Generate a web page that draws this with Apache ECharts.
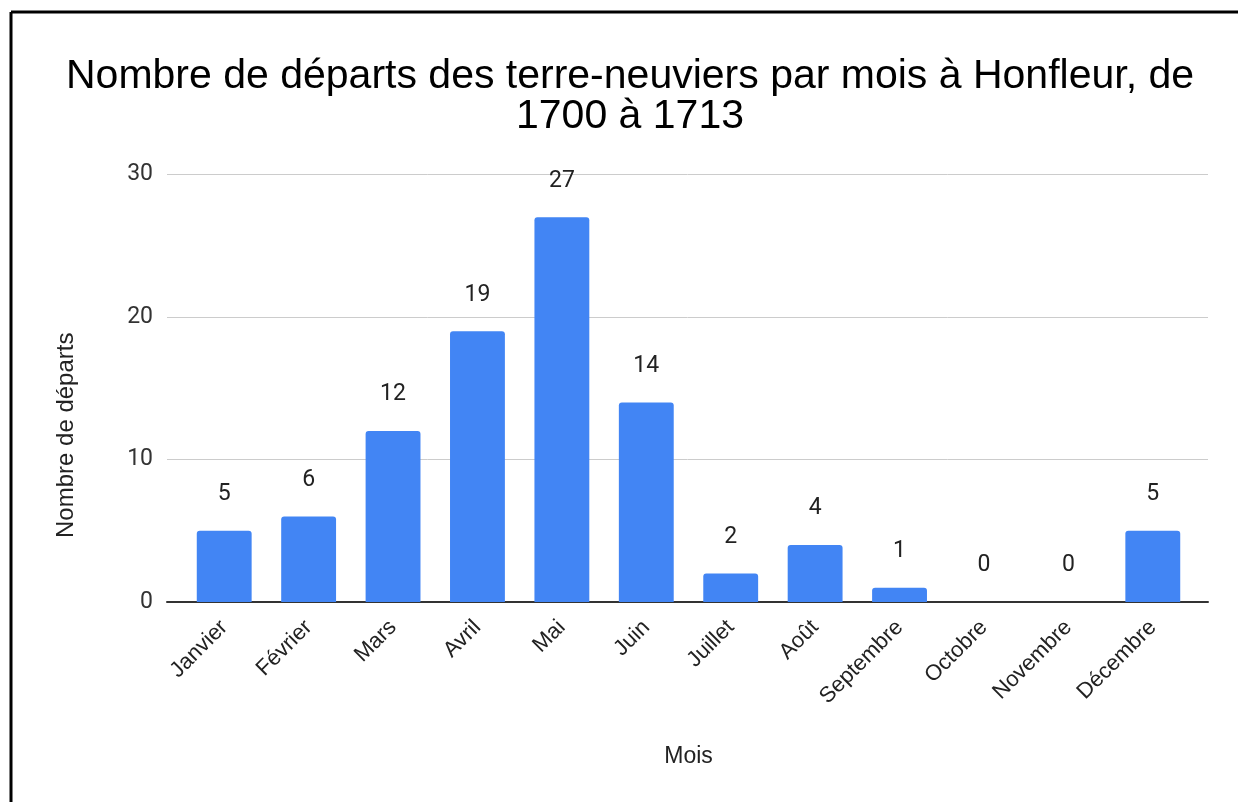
<!DOCTYPE html>
<html>
<head>
<meta charset="utf-8">
<script src="https://cdn.jsdelivr.net/npm/echarts@6/dist/echarts.min.js"></script>
<style>
    html, body { margin: 0; padding: 0; background: #fff; }
    #chart { width: 1238px; height: 802px; }
</style>
</head>
<body>
<div id="chart"></div>
<script>
// données
var mois = ['Janvier', 'Février', 'Mars', 'Avril', 'Mai', 'Juin', 'Juillet', 'Août', 'Septembre', 'Octobre', 'Novembre', 'Décembre'];
var departs = [5, 6, 12, 19, 27, 14, 2, 4, 1, 0, 0, 5];
var yTicks = [0, 10, 20, 30];

var chart = echarts.init(document.getElementById('chart'));

var option = {
    animation: false,
    title: {
        text: 'Nombre de départs des terre-neuviers par mois à Honfleur, de\n1700 à 1713',
        left: 625,
        top: 52,
        textAlign: 'center',
        textStyle: {
            fontFamily: 'Liberation Sans',
            fontSize: 41,
            fontWeight: 'normal',
            color: '#000',
            lineHeight: 40
        }
    },
    // cadre noir (haut + gauche)
    graphic: [
        { type: 'line', shape: { x1: 11, y1: 12, x2: 1238, y2: 12 }, style: { stroke: '#000', lineWidth: 3 } },
        { type: 'line', shape: { x1: 11, y1: 12, x2: 11, y2: 802 }, style: { stroke: '#000', lineWidth: 3 } }
    ],
    grid: [
        // fond : lignes de grille + axe
        { left: 167, right: 30, top: 174.5, bottom: 200 },
        // barres
        { left: 182, right: 43, top: 174.5, bottom: 200 }
    ],
    xAxis: [
        {
            gridIndex: 0,
            type: 'value',
            min: 0,
            max: 1,
            axisLine: { show: true, onZero: true, lineStyle: { color: '#333', width: 2 } },
            axisTick: { show: false },
            axisLabel: { show: false },
            splitLine: { show: false }
        },
        {
            gridIndex: 1,
            type: 'category',
            data: mois,
            axisLine: { show: false },
            axisTick: { show: false },
            axisLabel: {
                rotate: 45,
                margin: 22,
                interval: 0,
                fontFamily: 'Liberation Sans',
                fontSize: 22,
                color: '#222'
            },
            name: 'Mois',
            nameLocation: 'middle',
            nameGap: 143,
            nameTextStyle: { fontFamily: 'Liberation Sans', fontSize: 23, color: '#222' }
        }
    ],
    yAxis: [
        {
            gridIndex: 0,
            type: 'value',
            min: yTicks[0],
            max: yTicks[yTicks.length - 1],
            interval: 10,
            axisLine: { show: false },
            axisTick: { show: false },
            axisLabel: {
                margin: 14,
                fontFamily: 'Roboto',
                fontSize: 23,
                color: '#333'
            },
            splitLine: { lineStyle: { color: '#cccccc', width: 1 } },
            name: 'Nombre de départs',
            nameLocation: 'middle',
            nameGap: 89,
            nameTextStyle: {
                fontFamily: 'Liberation Sans',
                fontSize: 24,
                color: '#222',
                padding: [0, 94, 0, 0]
            }
        },
        {
            gridIndex: 1,
            type: 'value',
            min: yTicks[0],
            max: yTicks[yTicks.length - 1],
            interval: 10,
            show: false
        }
    ],
    series: [
        {
            type: 'bar',
            xAxisIndex: 1,
            yAxisIndex: 1,
            data: departs,
            barCategoryGap: '35%',
            itemStyle: { color: '#4285f4', borderRadius: [3, 3, 0, 0] },
            label: {
                show: true,
                position: 'top',
                distance: 25,
                fontFamily: 'Roboto',
                fontSize: 23,
                color: '#222'
            }
        }
    ]
};

chart.setOption(option);
</script>
</body>
</html>
